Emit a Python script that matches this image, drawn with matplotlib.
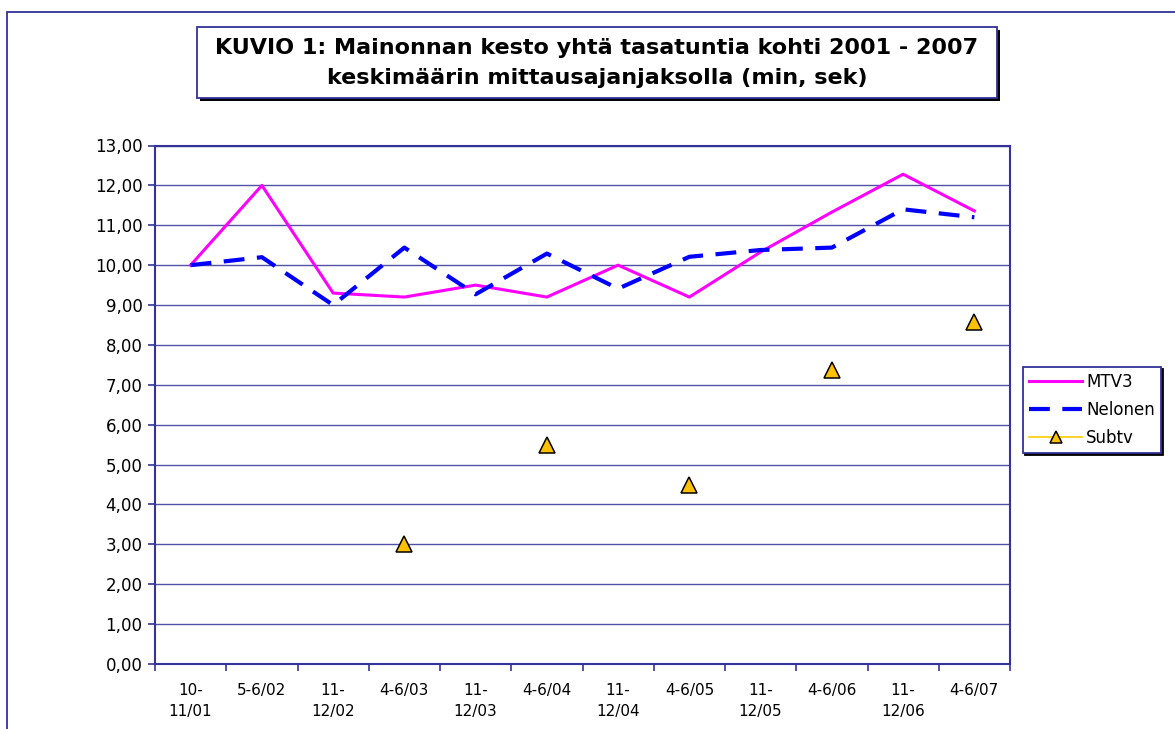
import numpy as np
import matplotlib
matplotlib.use("Agg")
import matplotlib.pyplot as plt
from matplotlib.patches import Rectangle

# Periods (x categories)
periods = ["10-\n11/01", "5-6/02", "11-\n12/02", "4-6/03", "11-\n12/03", "4-6/04",
           "11-\n12/04", "4-6/05", "11-\n12/05", "4-6/06", "11-\n12/06", "4-6/07"]

# Values (minutes)
mtv3 = [10.0, 12.0, 9.3, 9.2, 9.5, 9.2, 10.0, 9.2, 10.33, 11.33, 12.28, 11.36]
nelonen = [10.0, 10.2, 9.0, 10.44, 9.27, 10.29, 9.41, 10.21, 10.38, 10.44, 11.4, 11.2]
subtv = [np.nan, np.nan, np.nan, 3.0, np.nan, 5.5, np.nan, 4.5, np.nan, 7.37, np.nan, 8.57]

y_ticks = np.arange(0, 14, 1)
y_labels = [f"{v:.2f}".replace(".", ",") for v in y_ticks]

NAVY = "#333399"
W, H = 1175, 729


def px_rect(x0, y0, x1, y1, **kw):
    """Rectangle in figure pixel coords (top-left origin)."""
    return Rectangle((x0 / W, 1 - y1 / H), (x1 - x0) / W, (y1 - y0) / H,
                     transform=fig.transFigure, **kw)


fig = plt.figure(figsize=(W / 100, H / 100), dpi=100)
fig.patch.set_facecolor("white")

# outer chart frame (runs off right/bottom edge)
fig.add_artist(px_rect(7, 12, 1300, 800, fill=False, edgecolor=NAVY, lw=1.3))

ax = fig.add_axes([155 / W, 1 - 664 / H, 855 / W, (664 - 145.5) / H])
x = np.arange(len(periods))

ax.plot(x, mtv3, color="#FF00FF", lw=2.2, label="MTV3", zorder=3)
ax.plot(x, nelonen, color="#0000FF", lw=3, dashes=(5, 3), label="Nelonen", zorder=3)
ax.plot(x, subtv, color="#FFCC00", lw=1.2, marker="^", markersize=11,
        markerfacecolor="#FFC000", markeredgecolor="black", markeredgewidth=1.1,
        linestyle="none", label="Subtv", zorder=4)

ax.set_xlim(-0.5, len(periods) - 0.5)
ax.set_ylim(0, 13)
ax.set_yticks(y_ticks)
ax.set_yticklabels(y_labels, fontsize=12)
ax.set_xticks(x)
ax.set_xticklabels(periods, fontsize=11, linespacing=1.5)
ax.set_xticks(np.arange(-0.5, len(periods), 1), minor=True)
ax.tick_params(axis="x", which="major", length=0, pad=14)
ax.tick_params(axis="x", which="minor", length=5, color=NAVY, width=1.2)
ax.tick_params(axis="y", length=5, color=NAVY, width=1.2, pad=4)
ax.grid(axis="y", color=NAVY, lw=1, alpha=0.85)
ax.set_axisbelow(True)
for sp in ax.spines.values():
    sp.set_color(NAVY)
    sp.set_linewidth(1.5)

# Title box with shadow
fig.add_artist(px_rect(200, 30, 1000, 101, facecolor="black", edgecolor="none", zorder=1))
fig.add_artist(px_rect(197, 27, 997, 98, facecolor="white", edgecolor=NAVY, lw=1.3, zorder=2))
fig.text(597 / W, 1 - 63 / H,
         "KUVIO 1: Mainonnan kesto yhtä tasatuntia kohti 2001 - 2007\nkeskimäärin mittausajanjaksolla (min, sek)",
         ha="center", va="center", fontsize=16, fontweight="bold", linespacing=1.6, zorder=3)

# Legend with shadow
leg = ax.legend(loc="center left", bbox_to_anchor=(1023 / W, 1 - 410 / H),
                bbox_transform=fig.transFigure, fontsize=12,
                frameon=True, fancybox=False,
                shadow={"color": "black", "alpha": 1, "ox": 1.2, "oy": -1.5},
                borderpad=0.35, handlelength=3.2, handletextpad=0.25, labelspacing=0.6,
                borderaxespad=0)
leg.get_frame().set_edgecolor(NAVY)
leg.get_frame().set_linewidth(1.3)
leg.legend_handles[2].set_linestyle("-")
leg.legend_handles[2].set_markersize(9)

fig.savefig("out.png", dpi=100)
